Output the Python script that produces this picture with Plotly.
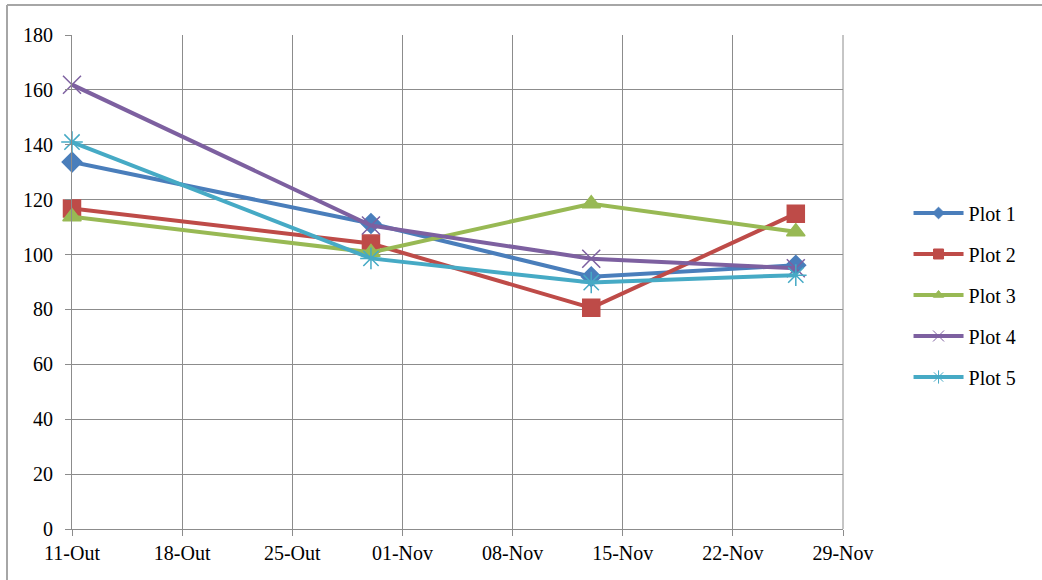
import plotly.graph_objects as go

# Sampling dates and measured values for each plot
dates = ["2010-10-11", "2010-10-30", "2010-11-13", "2010-11-26"]
plot1 = [133.7, 111.3, 91.9, 96.1]
plot2 = [116.8, 104.0, 80.6, 114.9]
plot3 = [113.8, 100.8, 118.5, 108.3]
plot4 = [161.9, 110.6, 98.5, 95.0]
plot5 = [141.0, 98.6, 89.8, 92.5]

series_names = ["Plot 1", "Plot 2", "Plot 3", "Plot 4", "Plot 5"]
series_values = [plot1, plot2, plot3, plot4, plot5]

tick_dates = ["2010-10-11", "2010-10-18", "2010-10-25", "2010-11-01",
              "2010-11-08", "2010-11-15", "2010-11-22", "2010-11-29"]
tick_labels = ["11-Out", "18-Out", "25-Out", "01-Nov",
               "08-Nov", "15-Nov", "22-Nov", "29-Nov"]
y_ticks = [0, 20, 40, 60, 80, 100, 120, 140, 160, 180]

colors = ["#4A7EBB", "#BE4B48", "#98B954", "#7D60A0", "#46AAC5"]
symbols = ["diamond", "square", "triangle-up", "x-thin-open", "asterisk-open"]
sizes = [15, 17, 16, 18, 18]
legend_sizes = [9, 10, 9, 11, 11]

SERIF = "Times New Roman, Liberation Serif, serif"

fig = go.Figure()
for i, (name, vals) in enumerate(zip(series_names, series_values)):
    fig.add_trace(go.Scatter(
        x=dates, y=vals, name=name, mode="lines+markers",
        legendgroup=name, showlegend=False, cliponaxis=False,
        line=dict(color=colors[i], width=4),
        marker=dict(symbol=symbols[i], size=sizes[i], color=colors[i],
                    line=dict(color=colors[i], width=1.5)),
    ))
    # legend entry with a smaller marker glyph
    fig.add_trace(go.Scatter(
        x=[None], y=[None], name=name, mode="lines+markers",
        legendgroup=name, showlegend=True,
        line=dict(color=colors[i], width=4),
        marker=dict(symbol=symbols[i], size=legend_sizes[i], color=colors[i],
                    line=dict(color=colors[i], width=1)),
    ))

grid = "#8C8C8C"
fig.update_layout(
    width=1042, height=580,
    margin=dict(l=72, r=199, t=35, b=51),
    paper_bgcolor="white", plot_bgcolor="white",
    font=dict(family=SERIF, size=20, color="black"),
    showlegend=True,
    legend=dict(x=1.085, y=0.4737, xanchor="left", yanchor="middle",
                traceorder="grouped", tracegroupgap=12, itemwidth=50,
                font=dict(family=SERIF, size=20),
                bgcolor="rgba(0,0,0,0)"),
    xaxis=dict(type="date", range=["2010-10-11", "2010-11-29"],
               tickvals=tick_dates, ticktext=tick_labels,
               tickfont=dict(family=SERIF, size=20),
               showgrid=True, gridcolor=grid, gridwidth=1,
               showline=True, linecolor=grid, linewidth=1,
               ticks="outside", ticklen=6, tickcolor=grid,
               zeroline=False),
    yaxis=dict(range=[0, 180], tickvals=y_ticks,
               tickfont=dict(family=SERIF, size=20),
               ticklabelstandoff=8,
               showgrid=True, gridcolor=grid, gridwidth=1,
               showline=True, linecolor=grid, linewidth=1,
               ticks="outside", ticklen=6, tickcolor=grid,
               zeroline=False),
    shapes=[
        dict(type="line", xref="paper", yref="paper",
             x0=-0.0843, x1=1.26, y0=1.0607, y1=1.0607,
             line=dict(color="#A6A6A6", width=2)),
        dict(type="line", xref="paper", yref="paper",
             x0=-0.0843, x1=-0.0843, y0=1.0607, y1=-0.11,
             line=dict(color="#A6A6A6", width=2)),
        dict(type="line", xref="paper", yref="paper",
             x0=1, x1=1, y0=0, y1=1,
             line=dict(color=grid, width=1)),
    ],
)

fig.write_html("out.html")
